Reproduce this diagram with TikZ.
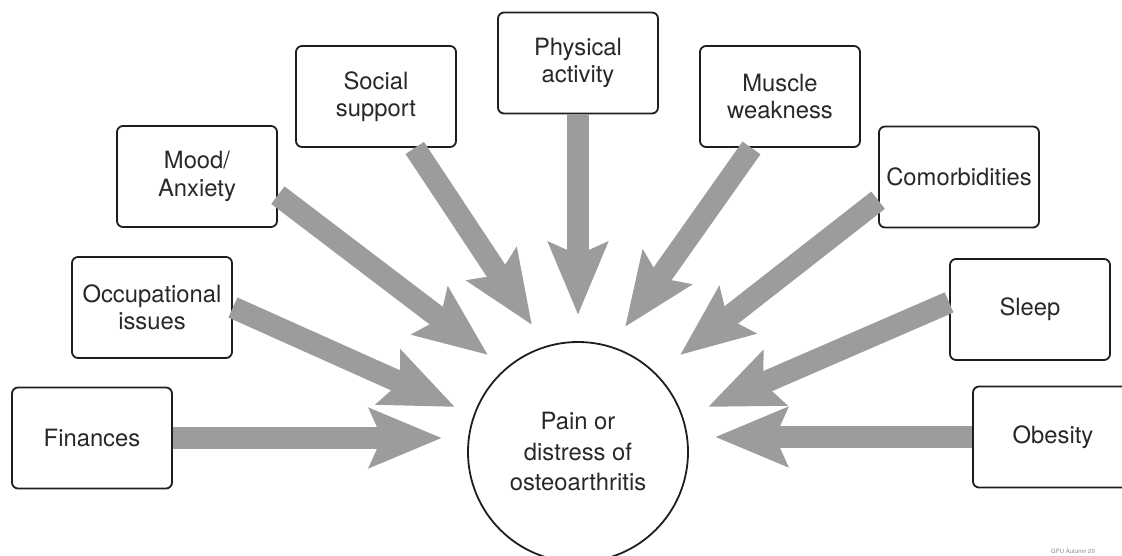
\documentclass[tikz,border=0pt]{standalone}
\usepackage{fontspec}
\setmainfont{TeX Gyre Heros}
\usetikzlibrary{arrows.meta}
\definecolor{arrowgray}{RGB}{156,156,156}
\definecolor{txt}{RGB}{40,40,40}
\definecolor{edge}{RGB}{30,30,30}
\begin{document}
\begin{tikzpicture}[x=1pt,y=-1pt,
  factor/.style={draw=edge, line width=1.8pt, rounded corners=6pt, fill=white,
    minimum width=160pt, minimum height=101pt, align=center, inner sep=0pt,
    font=\fontsize{23.8}{27.5}\selectfont, text=txt},
  hub/.style={circle, draw=edge, line width=1.8pt, minimum size=220pt, inner sep=0pt,
    align=center, font=\fontsize{23.8}{30.5}\selectfont, text=txt},
  bigarrow/.style={draw=arrowgray, line width=22pt,
    -{Stealth[length=72pt,width=58pt,inset=12pt]}},
  tiny/.style={font=\fontsize{6}{7}\selectfont, text=black!45, anchor=west, inner sep=0pt}
]
\useasboundingbox (0,0) rectangle (1122,556);
\clip (0,0) rectangle (1122,556);

% factors
\node[factor] (fin)    at (92,438)    {Finances};
\node[factor] (occ)    at (152,307.5) {Occupational\\issues};
\node[factor] (mood)   at (197,176.5) {Mood/\\Anxiety};
\node[factor] (social) at (376,96.5)  {Social\\support};
\node[factor] (phys)   at (578,63)    {Physical\\activity};
\node[factor] (muscle) at (780,96.5)  {Muscle\\weakness};
\node[factor] (comor)  at (959,177)   {Comorbidities};
\node[factor] (sleep)  at (1030,309.5){Sleep};
\node[factor] (obes)   at (1053,437)  {Obesity};

% central node
\node[hub] (pain) at (578,452) {Pain or\\distress of\\osteoarthritis};

% arrow tips
\coordinate (tfin)    at (442,438);
\coordinate (tocc)    at (455,407);
\coordinate (tmood)   at (488,355);
\coordinate (tsocial) at (532,325);
\coordinate (tphys)   at (578,315);
\coordinate (tmuscle) at (625,327);
\coordinate (tcomor)  at (680,355);
\coordinate (tsleep)  at (708,407);
\coordinate (tobes)   at (715,437);

% arrows
\draw[bigarrow] (fin.east)    -- (tfin);
\draw[bigarrow] (occ.east)    -- (tocc);
\draw[bigarrow] (mood.-13)    -- (tmood);
\draw[bigarrow] (social.-53)  -- (tsocial);
\draw[bigarrow] (phys.south)  -- (tphys);
\draw[bigarrow] (muscle.-119) -- (tmuscle);
\draw[bigarrow] (comor.-164)  -- (tcomor);
\draw[bigarrow] (sleep.175)   -- (tsleep);
\draw[bigarrow] (obes.west)   -- (tobes);

\node[tiny] (credit) at (1051,551) {GPU Autumn 20};
\end{tikzpicture}
\end{document}
